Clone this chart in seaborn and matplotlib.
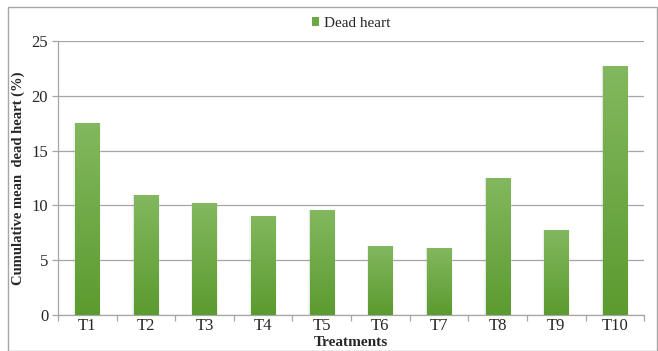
import numpy as np
import pandas as pd
import matplotlib
matplotlib.use("Agg")
import matplotlib.pyplot as plt
import seaborn as sns
from matplotlib.colors import LinearSegmentedColormap
from matplotlib.patches import Rectangle

treatments = ["T1", "T2", "T3", "T4", "T5", "T6", "T7", "T8", "T9", "T10"]
dead_heart = [17.55, 10.92, 10.19, 9.03, 9.55, 6.30, 6.11, 12.47, 7.79, 22.7]
y_ticks = [0, 5, 10, 15, 20, 25]

df = pd.DataFrame({"Treatments": treatments, "Dead heart": dead_heart})

sns.set_theme(style="white")
plt.rcParams["font.family"] = ["Liberation Serif", "DejaVu Serif"]

fig = plt.figure(figsize=(6.58, 3.51), dpi=100)
ax = fig.add_axes([0.088, 0.1026, 0.891, 0.781])

sns.barplot(data=df, x="Treatments", y="Dead heart", color="#6aa943",
            width=0.41, ax=ax, saturation=1, zorder=3)

# vertical green gradient inside each bar, lighter at the top
green_grad = LinearSegmentedColormap.from_list("g", ["#5b9b2f", "#82b85e"])
grad = np.linspace(0, 1, 256).reshape(-1, 1)
for bar in ax.patches:
    x0, y0 = bar.get_x(), bar.get_y()
    w, h = bar.get_width(), bar.get_height()
    # faint soft shadow along the bar sides
    for k, a in zip([0.03, 0.018, 0.008], [0.03, 0.04, 0.05]):
        ax.add_patch(Rectangle((x0 - k, y0), w + 2 * k, h,
                               facecolor="black", alpha=a, lw=0, zorder=2))
    im = ax.imshow(grad, cmap=green_grad, origin="lower", aspect="auto",
                   extent=(x0, x0 + w, y0, y0 + h), zorder=4)
    im.set_clip_path(bar)

ax.set_xlim(-0.5, len(treatments) - 0.5)
ax.set_ylim(0, 25)
ax.set_yticks(y_ticks)
ax.yaxis.grid(True, color="#a6a6a6", lw=0.9, zorder=0)
ax.set_axisbelow(True)

for s in ["top", "right"]:
    ax.spines[s].set_visible(False)
ax.spines["left"].set_color("#a6a6a6")
ax.spines["bottom"].set_color("#a6a6a6")
ax.spines["left"].set_linewidth(0.9)
ax.spines["bottom"].set_linewidth(0.9)

# category boundary ticks on the x axis
ax.set_xticks(np.arange(len(treatments)))
ax.set_xticklabels(treatments, fontsize=12)
ax.set_xticks(np.arange(-0.5, len(treatments)), minor=True)
ax.tick_params(axis="x", which="major", length=0, pad=2)
ax.tick_params(axis="x", which="minor", length=4, color="#a6a6a6", width=0.9, direction="out")
ax.tick_params(axis="y", length=4, color="#a6a6a6", width=0.9, labelsize=12, pad=3, direction="out")
ax.tick_params(axis="x", bottom=True, which="both")
ax.tick_params(axis="y", left=True)

ax.set_xlabel("Treatments", fontsize=11, fontweight="bold")
ax.xaxis.set_label_coords(0.5, -0.075)
ax.set_ylabel("Cumulative mean  dead heart (%)", fontsize=10.5, fontweight="bold")
ax.yaxis.set_label_coords(-0.056, 0.5)

handle = Rectangle((0, 0), 1, 1, facecolor="#6aa943", edgecolor="none")
ax.legend([handle], ["Dead heart"], loc="center", bbox_to_anchor=(0.5, 1.063),
          frameon=False, fontsize=11, handlelength=0.5, handleheight=0.5,
          handletextpad=0.3, borderaxespad=0, borderpad=0)

# thin border around the whole figure
fig.patches.append(Rectangle((0.012, 0.0), 0.986, 0.98, transform=fig.transFigure,
                             fill=False, edgecolor="#a6a6a6", lw=1.0))

fig.savefig("out.png", dpi=100)
